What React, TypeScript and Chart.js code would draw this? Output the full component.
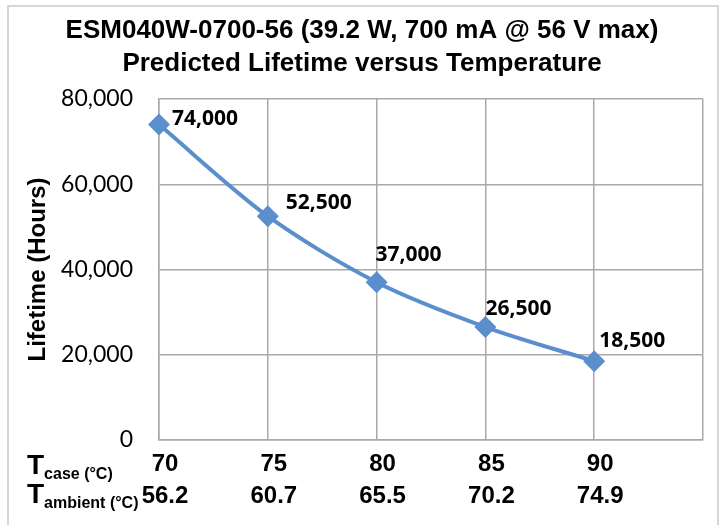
import React, { useEffect, useRef } from 'react';
import { Chart, registerables } from 'chart.js';

Chart.register(...registerables);

// ---- data ----
const tCase = [70, 75, 80, 85, 90];
const tAmbient = ['56.2', '60.7', '65.5', '70.2', '74.9'];
const lifetimeHours = [74000, 52500, 37000, 26500, 18500];
const yMin = 0;
const yMax = 80000;
const yStep = 20000;
const xMin = 70;
const xMax = 95;
const xStep = 5;
const titleLines = ['ESM040W-0700-56 (39.2 W, 700 mA @ 56 V max)', 'Predicted Lifetime versus Temperature'];
const yAxisTitle = 'Lifetime (Hours)';
const rowLabels = [
  { main: 'T', sub: 'case (°C)' },
  { main: 'T', sub: 'ambient (°C)' },
];

// label placement relative to each point (style)
const labelOffsets = [
  [13, -6],
  [18, -13],
  [-1, -27],
  [0, -18],
  [5, -20],
];

const LINE_COLOR = '#5B8ECC';
const GRID_COLOR = '#a9a9a9';

const fmt = (v: number) => v.toLocaleString('en-US');

const decorPlugin = {
  id: 'decor',
  beforeDraw(chart: any) {
    const ctx = chart.ctx;
    ctx.save();
    ctx.fillStyle = '#ffffff';
    ctx.fillRect(0, 0, chart.width, chart.height);
    ctx.strokeStyle = '#d6d6d6';
    ctx.lineWidth = 2;
    ctx.strokeRect(8, 6, 710, 540);
    ctx.restore();
  },
  afterDraw(chart: any) {
    const ctx = chart.ctx;
    ctx.save();
    // title
    ctx.fillStyle = '#000';
    ctx.textAlign = 'center';
    ctx.textBaseline = 'middle';
    ctx.font = 'bold 26px "Liberation Sans", Arial, sans-serif';
    ctx.fillText(titleLines[0], 362, 31);
    ctx.fillText(titleLines[1], 362, 64);

    // row labels for x axis
    ctx.textAlign = 'left';
    ctx.textBaseline = 'alphabetic';
    const baseY = [474, 503];
    rowLabels.forEach((r, i) => {
      ctx.font = 'bold 28px "Liberation Sans", Arial, sans-serif';
      ctx.fillText(r.main, 27, baseY[i]);
      const w = ctx.measureText(r.main).width;
      ctx.font = 'bold 16px "Liberation Sans", Arial, sans-serif';
      ctx.fillText(r.sub, 27 + w, baseY[i] + 5);
    });
    ctx.restore();
  },
  afterDatasetsDraw(chart: any) {
    const ctx = chart.ctx;
    const meta = chart.getDatasetMeta(0);
    ctx.save();
    ctx.fillStyle = '#000';
    ctx.font = 'bold 21px "Open Sans", Lato, sans-serif';
    ctx.textAlign = 'left';
    ctx.textBaseline = 'middle';
    meta.data.forEach((pt: any, i: number) => {
      const off = labelOffsets[i] || [8, -18];
      ctx.fillText(fmt(lifetimeHours[i]), pt.x + off[0], pt.y + off[1]);
    });
    ctx.restore();
  },
};

export default function App() {
  const ref = useRef<HTMLCanvasElement | null>(null);

  useEffect(() => {
    document.body.style.margin = '0';
    if (!ref.current) return;
    const chart = new Chart(ref.current, {
      type: 'line',
      data: {
        datasets: [
          {
            data: tCase.map((x, i) => ({ x, y: lifetimeHours[i] })),
            borderColor: LINE_COLOR,
            backgroundColor: LINE_COLOR,
            borderWidth: 4,
            tension: 0.3,
            pointStyle: 'rectRot',
            pointRadius: 11,
            pointHoverRadius: 11,
            pointBorderWidth: 0,
            pointBackgroundColor: LINE_COLOR,
            clip: false as any,
          },
        ],
      },
      options: {
        animation: false,
        responsive: false,
        layout: { padding: { top: 99, right: 21, left: 0, bottom: 0 } },
        plugins: {
          legend: { display: false },
          title: { display: false },
          tooltip: { enabled: false },
        },
        scales: {
          x: {
            type: 'linear',
            min: xMin,
            max: xMax,
            ticks: {
              stepSize: xStep,
              padding: 8,
              labelOffset: 6,
              color: '#000',
              font: { family: '"Liberation Sans", Arial, sans-serif', size: 24, weight: 'bold', lineHeight: 1.333 },
              maxRotation: 0,
              autoSkip: false,
              callback: (v: any) => {
                const i = tCase.indexOf(Number(v));
                if (i < 0) return '';
                return [String(tCase[i]), tAmbient[i]];
              },
            },
            grid: { color: GRID_COLOR, lineWidth: 1.5, drawTicks: false },
            border: { color: GRID_COLOR, width: 1.5 },
            afterFit: (scale: any) => {
              scale.height = 85;
            },
          },
          y: {
            min: yMin,
            max: yMax,
            ticks: {
              stepSize: yStep,
              padding: 26,
              color: '#000',
              font: { family: 'Lato, "Open Sans", sans-serif', size: 23 },
              callback: (v: any) => fmt(Number(v)),
            },
            grid: { color: GRID_COLOR, lineWidth: 1.5, drawTicks: false },
            border: { color: GRID_COLOR, width: 1.5 },
            title: {
              display: true,
              text: yAxisTitle,
              color: '#000',
              font: { family: '"Liberation Sans", Arial, sans-serif', size: 24, weight: 'bold', lineHeight: 1.2 },
              padding: { top: 24, bottom: 0 },
            },
            afterFit: (scale: any) => {
              scale.width = 159;
            },
          },
        },
      },
      plugins: [decorPlugin],
    });
    return () => chart.destroy();
  }, []);

  return (
    <div style={{ width: 724, height: 525 }}>
      <canvas ref={ref} width={724} height={525} style={{ display: 'block' }} />
    </div>
  );
}
